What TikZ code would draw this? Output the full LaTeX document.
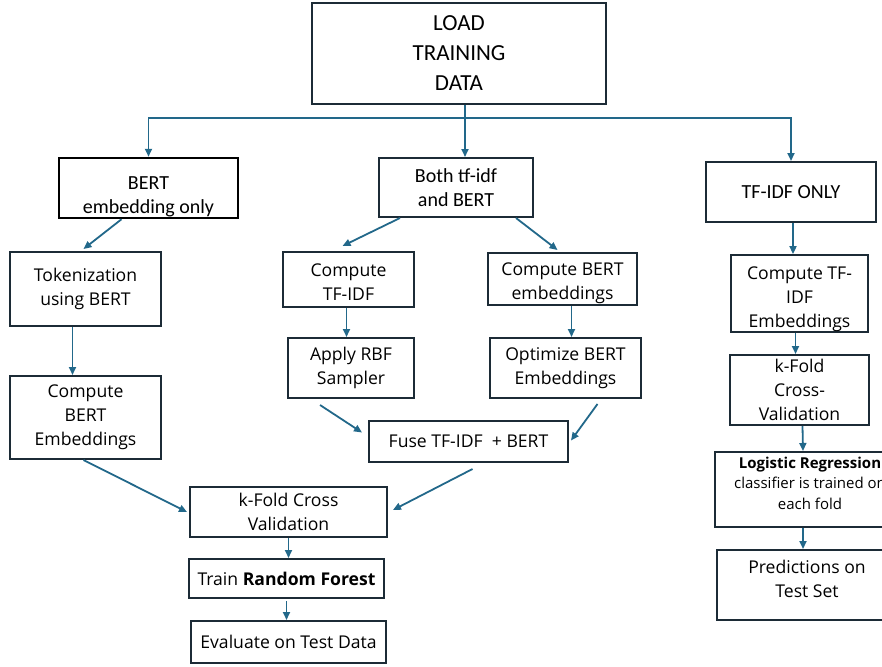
\documentclass[tikz,border=0pt]{standalone}
\usepackage{fontspec}
\setmainfont{Open Sans}
\newfontfamily\narrowfont{Carlito}
\usetikzlibrary{calc}
\usetikzlibrary{arrows.meta}
\definecolor{boxline}{HTML}{1C2B36}
\definecolor{arrowblue}{HTML}{22688A}

\tikzset{
  flowbox/.style={draw=boxline, line width=2pt, fill=white, align=center, inner sep=0pt,
    font=\fontsize{17.6}{24}\selectfont},
  topbox/.style={flowbox, font=\narrowfont\fontsize{20}{24}\selectfont},
  link/.style={draw=arrowblue, line width=1.8pt},
  flowarrow/.style={link, -{Triangle[length=8pt,width=7pt]}}
}

\begin{document}
\begin{tikzpicture}[x=1pt, y=-1pt]
\useasboundingbox (0,0) rectangle (882,666);
\clip (0,0) rectangle (882,666);

% top row
\node[topbox, minimum width=294, minimum height=101, font=\narrowfont\fontsize{23}{30}\selectfont] (load) at (459,53.5) {LOAD\\TRAINING\\DATA};
\node[topbox, draw=black, line width=2.5pt, minimum width=179, minimum height=60, text height=55pt] (bertonly) at (148.5,188) {BERT\\embedding only};
\node[topbox, minimum width=154, minimum height=59] (both) at (456,187.5) {Both tf-idf\\and BERT};
\node[topbox, minimum width=170, minimum height=60] (tfonly) at (791,192) {TF-IDF ONLY};

% left branch
\node[flowbox, minimum width=151, minimum height=74] (tok) at (85.5,289) {Tokenization\\using BERT};
\node[flowbox, minimum width=151, minimum height=83] (bertemb) at (85.5,417.5) {Compute\\BERT\\Embeddings};

% middle branch
\node[flowbox, minimum width=131, minimum height=55, text height=42.6pt] (tfidf) at (348.5,279.5) {Compute\\TF-IDF};
\node[flowbox, minimum width=126, minimum height=60] (rbf) at (351,368) {Apply RBF\\Sampler};
\node[flowbox, minimum width=149, minimum height=52, text height=44.6pt] (bertmid) at (562.5,279) {Compute BERT\\embeddings};
\node[flowbox, minimum width=151, minimum height=60] (optbert) at (565.5,368) {Optimize BERT\\Embeddings};
\node[flowbox, minimum width=199, minimum height=41] (fuse) at (468.5,441.5) {Fuse TF-IDF\ \ + BERT};

% bottom chain
\node[flowbox, minimum width=197, minimum height=50] (kfold) at (288.5,512) {k-Fold Cross\\Validation};
\node[flowbox, minimum width=195, minimum height=39] (forest) at (286.5,578.5) {Train \textbf{Random Forest}};
\node[flowbox, minimum width=195, minimum height=42] (evaltest) at (288.5,642) {Evaluate on Test Data};

% right branch
\node[flowbox, minimum width=137, minimum height=71, text height=72.6pt] (tfemb) at (799.5,293.5) {Compute TF-\\IDF\\Embeddings};
\node[flowbox, minimum width=139, minimum height=70] (kfoldr) at (799.5,390) {k-Fold\\Cross-\\Validation};
\node[flowbox, minimum width=190, minimum height=75, text depth=13pt, font=\fontsize{15}{20.5}\selectfont] (logreg) at (810,489.5) {\textbf{Logistic Regression}\\classifier is trained on\\each fold};
\node[flowbox, minimum width=180, minimum height=70, text depth=13pt] (predict) at (807,585) {Predictions on\\Test Set};

% split from the data box
\draw[link] ($(load.south)+(6,0)$) -- ++(0,13) coordinate (split);
\draw[flowarrow] (split) -| (bertonly.north);
\draw[flowarrow] (split) -- (split |- both.north);
\draw[flowarrow] (split) -| (tfonly.north);

% left arrows
\draw[flowarrow] ($(bertonly.south)+(-27,0)$) -- ($(tok.north)+(-2,-2)$);
\draw[flowarrow] ($(tok.south)+(-13,0)$) -- ($(bertemb.north)+(-13,0)$);
\draw[flowarrow] ($(bertemb.south)+(-2,0)$) -- ($(kfold.west)+(-2,0)$);

% middle arrows
\draw[flowarrow] ($(both.south)+(-56,0)$) -- ($(tfidf.north)+(-6,-5)$);
\draw[flowarrow] ($(both.south)+(60,0)$) -- ($(bertmid.north)+(-5,-2)$);
\draw[flowarrow] ($(tfidf.south)+(-2,0)$) -- ($(rbf.north)+(-4.5,0)$);
\draw[flowarrow] ($(bertmid.south)+(9,0)$) -- ($(optbert.north)+(6,0)$);
\draw[flowarrow] ($(rbf.south)+(-31,6)$) -- ($(fuse.west)+(-6,-9)$);
\draw[flowarrow] ($(optbert.south)+(32,5)$) -- ($(fuse.east)+(2,-1)$);
\draw[flowarrow] ($(fuse.south)+(4,6)$) -- ($(kfold.east)+(5,-2)$);

% bottom arrows
\draw[flowarrow] (kfold.south) -- (kfold.south |- forest.north);
\draw[flowarrow] ($(forest.south)+(0,2)$) -- (forest.south |- evaltest.north);

% right arrows
\draw[flowarrow] ($(tfonly.south)+(2,0)$) -- ($(tfemb.north)+(-6.5,0)$);
\draw[flowarrow] ($(tfemb.south)+(-4,0)$) -- ($(kfoldr.north)+(-4,0)$);
\draw[flowarrow] ($(kfoldr.south)+(3,0)$) -- ($(logreg.north)+(-7,0)$);
\draw[flowarrow] ($(logreg.south)+(-7,0)$) -- ($(predict.north)+(-4,0)$);

\end{tikzpicture}
\end{document}
